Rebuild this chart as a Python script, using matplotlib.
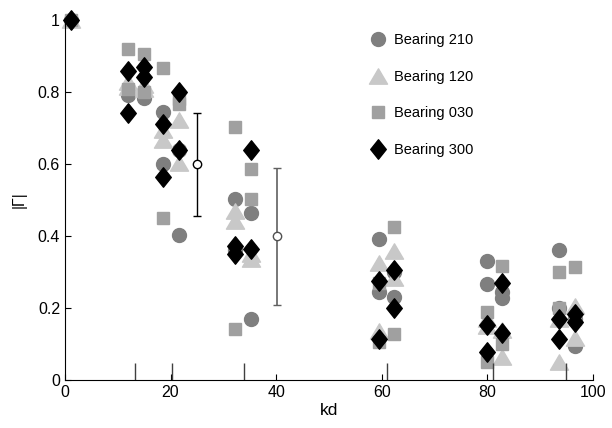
import matplotlib
matplotlib.use("Agg")
import matplotlib.pyplot as plt
import numpy as np
from matplotlib.path import Path

plt.rcParams['font.family'] = ['Liberation Sans', 'DejaVu Sans']

# kd positions shared by all bearings (two samples per position)
kd = [1.1,
      12.0, 12.0, 15.0, 15.0,
      18.6, 18.6, 21.6, 21.6,
      32.3, 32.3, 35.2, 35.2,
      59.4, 59.4, 62.4, 62.4,
      79.9, 79.9, 82.8, 82.8,
      93.5, 93.5, 96.5, 96.5]

gamma_210 = [1.0,
             0.792, 0.81, 0.783, 0.80,
             0.746, 0.601, 0.404, 0.64,
             0.503, 0.36, 0.465, 0.171,
             0.393, 0.245, 0.232, 0.30,
             0.332, 0.266, 0.227, 0.245,
             0.361, 0.201, 0.095, 0.17]

gamma_120 = [1.0,
             0.829, 0.815, 0.81, 0.82,
             0.695, 0.668, 0.723, 0.603,
             0.469, 0.441, 0.335, 0.35,
             0.326, 0.137, 0.358, 0.284,
             0.169, 0.15, 0.063, 0.14,
             0.049, 0.17, 0.206, 0.118]

gamma_030 = [1.0,
             0.919, 0.81, 0.906, 0.80,
             0.866, 0.451, 0.767, 0.78,
             0.702, 0.141, 0.587, 0.503,
             0.27, 0.105, 0.426, 0.127,
             0.188, 0.051, 0.317, 0.10,
             0.30, 0.20, 0.314, 0.17]

gamma_300 = [1.0,
             0.86, 0.742, 0.871, 0.841,
             0.712, 0.564, 0.799, 0.64,
             0.372, 0.349, 0.638, 0.363,
             0.275, 0.115, 0.305, 0.20,
             0.153, 0.079, 0.271, 0.132,
             0.169, 0.114, 0.183, 0.16]

# mean +/- spread markers
err_kd = [25.0, 40.1]
err_mean = [0.599, 0.399]
err_half = [0.144, 0.19]

# short reference lines at the bottom
ref_kd = [13.3, 20.2, 33.9, 60.9, 81.1, 94.8]
ref_height = 0.047

diamond = Path([(0, 1), (0.8, 0), (0, -1), (-0.8, 0), (0, 1)],
               [Path.MOVETO, Path.LINETO, Path.LINETO, Path.LINETO, Path.CLOSEPOLY])
triangle = Path([(-1, -0.85), (1, -0.85), (0, 0.85), (-1, -0.85)],
                [Path.MOVETO, Path.LINETO, Path.LINETO, Path.CLOSEPOLY])

fig = plt.figure(figsize=(6.12, 4.28), dpi=100)
ax = fig.add_axes([0.106, 0.112, 0.863, 0.841])

ax.plot(kd, gamma_210, ls='none', marker='o', ms=10, color='#7f7f7f', mec='#7f7f7f',
        label='Bearing 210', clip_on=False)
ax.plot(kd, gamma_120, ls='none', marker=triangle, ms=13, color='#c8c8c8', mec='#c8c8c8',
        label='Bearing 120', clip_on=False)
ax.plot(kd, gamma_030, ls='none', marker='s', ms=8, color='#a0a0a0', mec='#a0a0a0',
        label='Bearing 030', clip_on=False)
ax.plot(kd, gamma_300, ls='none', marker=diamond, ms=14, color='black', mec='black',
        label='Bearing 300', clip_on=False)

ax.errorbar(err_kd[0], err_mean[0], yerr=err_half[0], fmt='o', ms=6, mfc='white',
            mec='black', ecolor='black', elinewidth=1, capsize=3)
ax.errorbar(err_kd[1], err_mean[1], yerr=err_half[1], fmt='o', ms=6, mfc='white',
            mec='#505050', ecolor='#606060', elinewidth=1.2, capsize=3)

ax.vlines(ref_kd, 0, ref_height, color='#404040', lw=1)

ax.set_xlim(0, 100)
ax.set_ylim(0, 1)
ax.set_xticks([0, 20, 40, 60, 80, 100])
ax.set_yticks([0, 0.2, 0.4, 0.6, 0.8, 1])
ax.set_yticklabels(['0', '0.2', '0.4', '0.6', '0.8', '1'])
ax.tick_params(direction='in', length=4, labelsize=11.5, width=0.8)
ax.spines['top'].set_visible(False)
ax.spines['right'].set_visible(False)

ax.set_xlabel('kd', fontsize=12.5, labelpad=2)
ax.set_ylabel('|Γ|', fontsize=11.5, labelpad=8)

ax.legend(loc='upper left', bbox_to_anchor=(0.555, 1.0), frameon=False,
          handlelength=1.0, handletextpad=0.6, labelspacing=1.55,
          fontsize=10.5, numpoints=1)

fig.savefig('out.png', dpi=100)
